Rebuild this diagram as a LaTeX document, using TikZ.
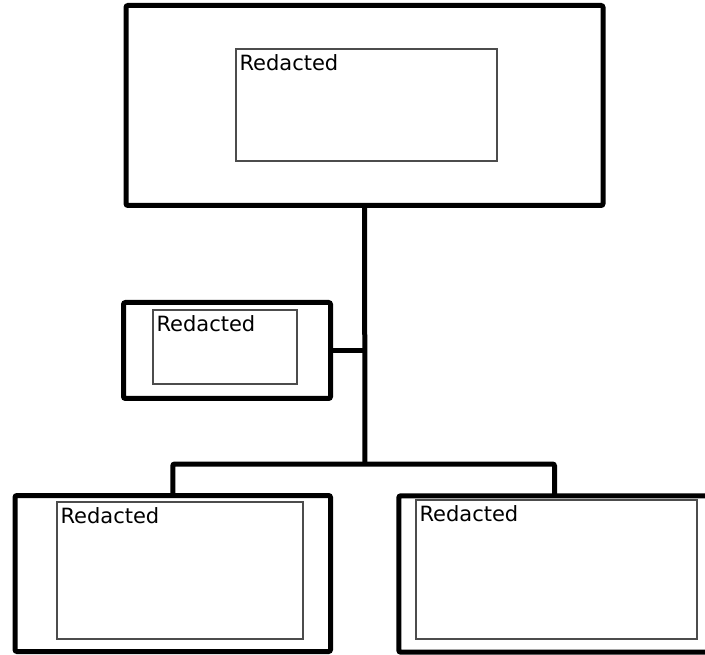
\documentclass[tikz,border=0pt]{standalone}
\usepackage{fontspec}
\setmainfont{DejaVu Sans}
\begin{document}
\begin{tikzpicture}[x=1pt,y=-1pt,
  outerbox/.style={draw,line width=5pt,rounded corners=2pt,inner sep=0pt},
  innerbox/.style={draw=black!70,line width=1.4pt,inner sep=0pt},
  wire/.style={line width=5pt,rounded corners=2pt},
  lbl/.style={anchor=north west,inner xsep=4pt,inner ysep=6.5pt,font=\fontsize{21}{25}\selectfont}]
\useasboundingbox (0,0) rectangle (705,655);
% outer frames
\node[outerbox,minimum width=477pt,minimum height=200pt] (top) at (364.5,105.5) {};
\node[outerbox,minimum width=207pt,minimum height=96pt] (mid) at (227,350.5) {};
\node[outerbox,minimum width=315.5pt,minimum height=156pt] (left) at (172.75,573.5) {};
\node[inner sep=0pt,minimum width=311pt,minimum height=156pt] (right) at (554.5,574) {};
\draw[wire] (right.north east) -- (right.north west) -- (right.south west) -- (right.south east);
% inner frames
\node[innerbox,minimum width=261pt,minimum height=112pt,label={[lbl]north west:Redacted}] (topin) at (366.5,105) {};
\node[innerbox,minimum width=144pt,minimum height=74pt,label={[lbl]north west:Redacted}] (midin) at (225,347) {};
\node[innerbox,minimum width=246pt,minimum height=137pt,label={[lbl]north west:Redacted}] (leftin) at (180,570.5) {};
\node[innerbox,minimum width=281pt,minimum height=139pt,label={[lbl]north west:Redacted}] (rightin) at (556.5,569.5) {};
% connectors
\coordinate (hub) at (365,464);
\draw[wire] (top.south) -- (hub);
\draw[wire] (mid.east) -- (mid.east -| hub);
\draw[wire] (left.north) |- (hub) -| (right.north);
\end{tikzpicture}
\end{document}
